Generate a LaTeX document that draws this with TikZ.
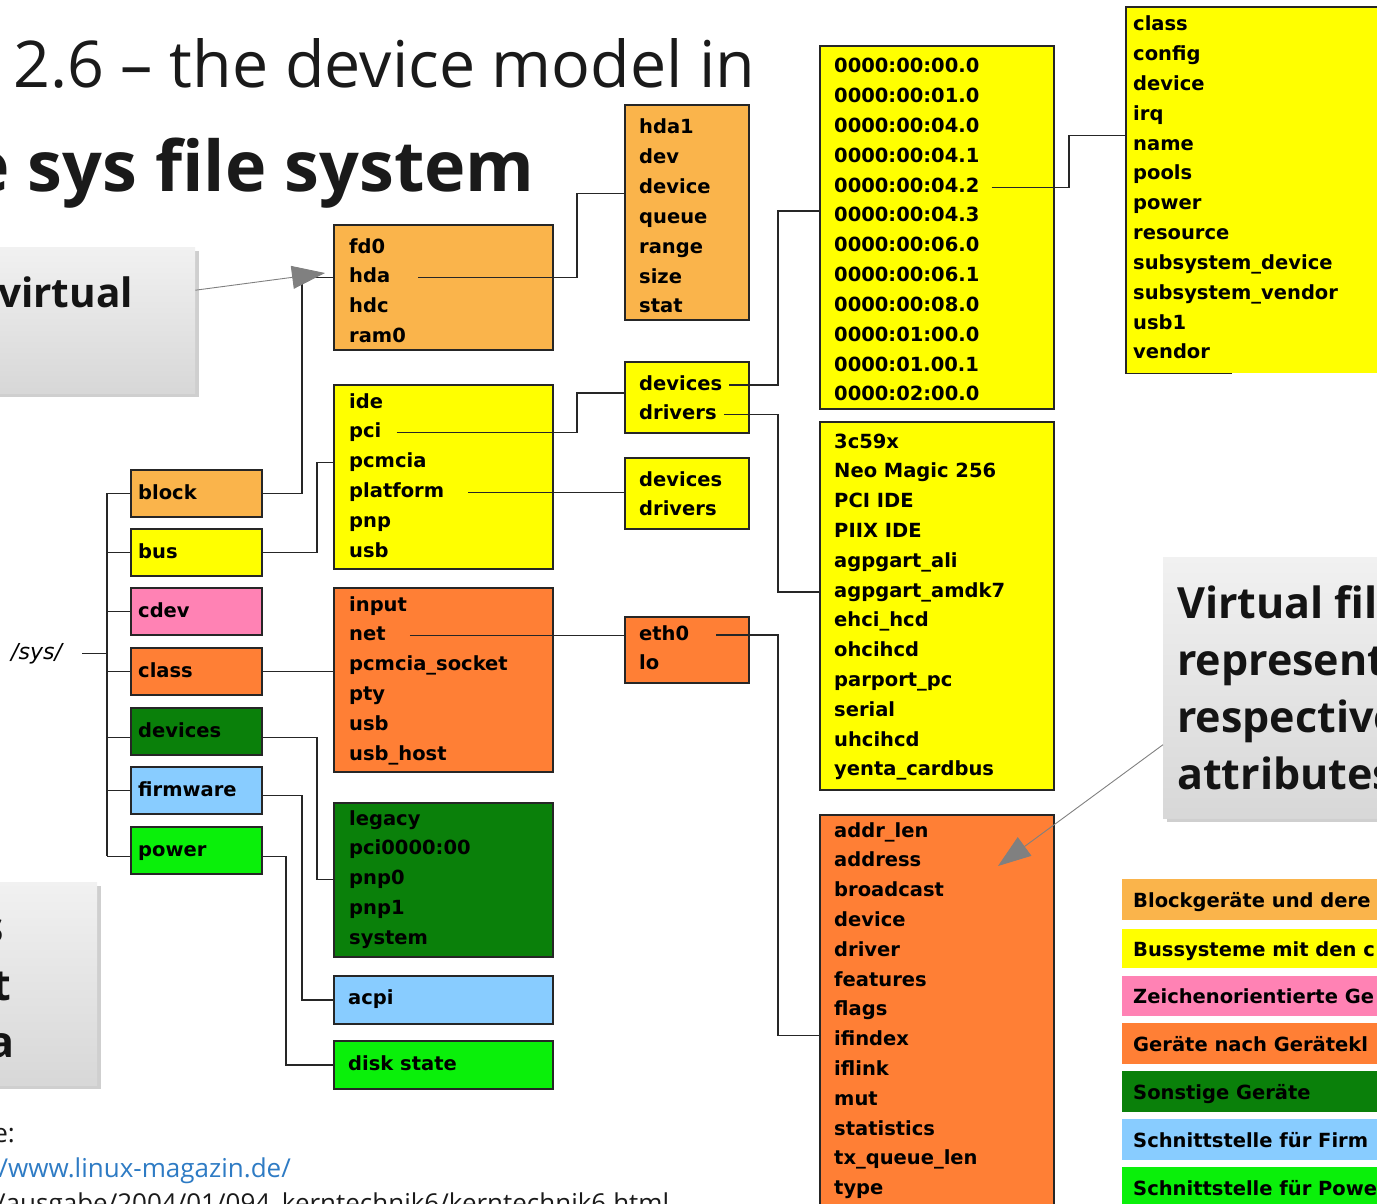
\documentclass[tikz,border=0pt]{standalone}
\usepackage{fontspec}
\setmainfont{Open Sans}
\newfontfamily\diafont{DejaVu Sans}
\usetikzlibrary{arrows.meta,calc,shadows}

% colour code of the sysfs directories
\definecolor{cblock}{HTML}{FAB44B}
\definecolor{cbus}{HTML}{FFFF00}
\definecolor{ccdev}{HTML}{FF82B4}
\definecolor{cclass}{HTML}{FF7F35}
\definecolor{cdevices}{HTML}{0A800A}
\definecolor{cfirmware}{HTML}{88CCFF}
\definecolor{cpower}{HTML}{0AF00A}
\definecolor{frame}{HTML}{262626}
\definecolor{linkblue}{HTML}{2E7BC4}
\definecolor{titleink}{HTML}{1A1A1A}

\begin{document}
\begin{tikzpicture}[x=1pt,y=-1pt,
  dirbox/.style={draw=frame,line width=1.7pt,fill=#1,inner sep=0pt,anchor=north west},
  legbox/.style={fill=#1,inner sep=0pt,anchor=north west,minimum width=280pt},
  item/.style={font=\diafont\bfseries\fontsize{19.5}{22}\selectfont,anchor=base west,
               inner sep=0pt,text height=14pt,text depth=4pt},
  wire/.style={draw=frame,line width=1.3pt},
  elbow/.style={to path={let \p1=(\tikztostart),\p2=(\tikztotarget) in
               -- (#1pt,\y1) -- (#1pt,\y2) -- (\tikztotarget)}},
  callout/.style={anchor=north west,inner sep=0pt,top color=gray!11,bottom color=gray!31,
               drop shadow={shadow xshift=4pt,shadow yshift=-4pt,fill=gray!38,opacity=1}},
  calltext/.style={font=\bfseries\fontsize{43}{50}\selectfont,inner sep=0pt,text=black!92},
  src/.style={font=\fontsize{26}{30}\selectfont,inner sep=0pt,text=titleink},
  pointer/.style={draw=gray,line width=0.9pt,-{Triangle[length=33pt,width=23pt,fill=gray]}},
]
\useasboundingbox (0,0) rectangle (1377,1204);
\clip (0,0) rectangle (1377,1204);

% ---------- title ----------
\node[anchor=base west,inner sep=0pt,font=\fontsize{64.5}{72}\selectfont,text=titleink]
  (title1) at (13,88) {2.6 – the device model in};
\node[anchor=base west,inner sep=0pt,font=\bfseries\fontsize{70}{80}\selectfont,text=titleink]
  (title2) at (-32,192) {e sys file system};

% ---------- callouts ----------
\node[callout,minimum width=205pt,minimum height=146pt] (cal1) at (-10,247) {};
\node[calltext,anchor=base west,font=\bfseries\fontsize{40.5}{48}\selectfont] (cal1-t) at (-2,307) {virtual};

\node[callout,minimum width=107pt,minimum height=203pt] (cal3) at (-10,882) {};
\node[calltext,anchor=base east] (cal3-t1) at (4,942) {s};
\node[calltext,anchor=base east] (cal3-t2) at (11,1000) {t};
\node[calltext,anchor=base east] (cal3-t3) at (15,1057) {a};

\node[callout,minimum width=240pt,minimum height=261pt] (cal2) at (1163,557) {};
\node[calltext,anchor=base west] (cal2-t1) at (1177,618) {Virtual fil};
\node[calltext,anchor=base west] (cal2-t2) at (1177,675) {represent};
\node[calltext,anchor=base west] (cal2-t3) at (1177,732) {respective};
\node[calltext,anchor=base west] (cal2-t4) at (1177,789) {attributes};

% ---------- /sys/ and its top-level directories ----------
\node[font=\diafont\itshape\fontsize{22}{24}\selectfont,anchor=base west,inner sep=0pt]
  (sys) at (11,659) {/sys/};

\foreach \nm/\col/\lab/\top in {blockbox/cblock/block/469,busbox/cbus/bus/528,
    cdevbox/ccdev/cdev/587,classbox/cclass/class/647,devbox/cdevices/devices/707,
    fwbox/cfirmware/firmware/766,pwbox/cpower/power/826}{
  \node[dirbox=\col,minimum width=131pt,minimum height=47pt] (\nm) at (130,\top) {};
  \node[item] (\nm-t) at (138,\top+30) {\lab};
}

% ---------- second level ----------
\node[dirbox=cblock,minimum width=219pt,minimum height=125pt] (bdev) at (333,224) {};
\foreach \w [count=\i from 0] in {fd0,hda,hdc,ram0}
  \node[item] (bdev-\i) at (349,253+29.8*\i) {\w};

\node[dirbox=cbus,minimum width=219pt,minimum height=184pt] (bbus) at (333,384) {};
\foreach \w [count=\i from 0] in {ide,pci,pcmcia,platform,pnp,usb}
  \node[item] (bbus-\i) at (349,408+29.8*\i) {\w};

\node[dirbox=cclass,minimum width=219pt,minimum height=184pt] (bcls) at (333,587) {};
\foreach \w [count=\i from 0] in {input,net,pcmcia\_socket,pty,usb,usb\_host}
  \node[item] (bcls-\i) at (349,611+29.8*\i) {\w};

\node[dirbox=cdevices,minimum width=219pt,minimum height=154pt] (bleg) at (333,802) {};
\foreach \w [count=\i from 0] in {legacy,pci0000:00,pnp0,pnp1,system}
  \node[item] (bleg-\i) at (349,825+29.8*\i) {\w};

\node[dirbox=cfirmware,minimum width=219pt,minimum height=48pt] (acpibox) at (333,975) {};
\node[item] (acpibox-t) at (348,1004) {acpi};
\node[dirbox=cpower,minimum width=219pt,minimum height=48pt] (diskbox) at (333,1040) {};
\node[item] (diskbox-t) at (348,1070) {disk state};

% ---------- third level ----------
\node[dirbox=cblock,minimum width=124pt,minimum height=215pt] (bhda) at (624,104) {};
\foreach \w [count=\i from 0] in {hda1,dev,device,queue,range,size,stat}
  \node[item] (bhda-\i) at (639,134+29.8*\i) {\w};

\node[dirbox=cbus,minimum width=124pt,minimum height=71pt] (bdd1) at (624,361) {};
\foreach \w [count=\i from 0] in {devices,drivers}
  \node[item] (bdd1-\i) at (639,390+29.8*\i) {\w};

\node[dirbox=cbus,minimum width=124pt,minimum height=71pt] (bdd2) at (624,457) {};
\foreach \w [count=\i from 0] in {devices,drivers}
  \node[item] (bdd2-\i) at (639,486+29.8*\i) {\w};

\node[dirbox=cclass,minimum width=124pt,minimum height=66pt] (beth) at (624,616) {};
\foreach \w [count=\i from 0] in {eth0,lo}
  \node[item] (beth-\i) at (639,640+29.8*\i) {\w};

% ---------- fourth level ----------
\node[dirbox=cbus,minimum width=234pt,minimum height=363pt] (bpci) at (819,45) {};
\foreach \w [count=\i from 0] in {0000:00:00.0,0000:00:01.0,0000:00:04.0,0000:00:04.1,
    0000:00:04.2,0000:00:04.3,0000:00:06.0,0000:00:06.1,0000:00:08.0,0000:01:00.0,
    0000:01.00.1,0000:02:00.0}
  \node[item] (bpci-\i) at (834,73+29.8*\i) {\w};

\node[dirbox=cbus,minimum width=234pt,minimum height=368pt] (bdrv) at (819,421) {};
\foreach \w [count=\i from 0] in {3c59x,Neo Magic 256,PCI IDE,PIIX IDE,agpgart\_ali,
    agpgart\_amdk7,ehci\_hcd,ohcihcd,parport\_pc,serial,uhcihcd,yenta\_cardbus}
  \node[item] (bdrv-\i) at (834,448+29.8*\i) {\w};

\node[dirbox=cclass,minimum width=234pt,minimum height=420pt] (bnet) at (819,814) {};
\foreach \w [count=\i from 0] in {addr\_len,address,broadcast,device,driver,features,
    flags,ifindex,iflink,mut,statistics,tx\_queue\_len,type}
  \node[item] (bnet-\i) at (834,837+29.8*\i) {\w};

% ---------- attributes of one PCI device ----------
\node[fill=cbus,inner sep=0pt,anchor=north west,minimum width=280pt,minimum height=366pt]
  (battr) at (1126,7) {};
\draw[draw=frame,line width=1.7pt] ($(battr.south west)+(106,0)$) -- (battr.south west)
  -- (battr.north west) -- (battr.north east);
\foreach \w [count=\i from 0] in {class,config,device,irq,name,pools,power,resource,
    subsystem\_device,subsystem\_vendor,usb1,vendor}
  \node[item] (battr-\i) at (1133,31+29.8*\i) {\w};

% ---------- legend ----------
\foreach \col/\top/\h/\base/\lab [count=\i] in {
    cblock/879/41/907/Blockgeräte und dere,
    cbus/929/39/956/Bussysteme mit den c,
    ccdev/976/40/1003/Zeichenorientierte Ge,
    cclass/1023/41/1051/Geräte nach Gerätekl,
    cdevices/1071/41/1099/Sonstige Geräte,
    cfirmware/1119/41/1147/Schnittstelle für Firm,
    cpower/1167/45/1195/Schnittstelle für Powe}{
  \node[legbox=\col,minimum height=\h pt] (leg-\i) at (1122,\top) {};
  \node[item] (leg-\i-t) at (1133,\base) {\lab};
}

% ---------- source ----------
\node[src,anchor=base east] (src1) at (15,1142) {e:};
\node[src,anchor=base east,text=linkblue] (src2) at (291,1177) {/www.linux-magazin.de/};
\node[src,anchor=base west] (src3) at (-4,1212) {/ausgabe/2004/01/094\_kerntechnik6/kerntechnik6.html};

% ---------- tree connectors ----------
\coordinate (trunk) at (107,653);
\draw[wire] ([xshift=20pt]sys.east) -- (sys.east -| trunk);
\draw[wire] (blockbox.west -| trunk) -- ($(pwbox.west -| trunk)+(0,6)$);
\foreach \nm in {blockbox,busbox,cdevbox,classbox,fwbox}
  \draw[wire] (\nm.west) -- (\nm.west -| trunk);
\foreach \nm in {devbox,pwbox}
  \draw[wire] ($(\nm.west)+(0,6)$) -- ($(\nm.west -| trunk)+(0,6)$);

\draw[wire] (blockbox.east) to[elbow=302] (bdev.west |- bdev-1);
\draw[wire] (busbox.east) to[elbow=317] (bbus.west |- bbus-2);
\draw[wire] (classbox.east) -- (classbox.east -| bcls.west);
\draw[wire] ($(devbox.east)+(0,6)$) to[elbow=317] (bleg.west |- bleg-2);
\draw[wire] ($(fwbox.east)+(0,5)$) to[elbow=302] (acpibox.west);
\draw[wire] ($(pwbox.east)+(0,6)$) to[elbow=286] (diskbox.west);

\draw[wire] ([xshift=28pt]bdev-1.east) to[elbow=577] ($(bhda.west |- bhda-2)+(0,5)$);
\draw[wire] ([xshift=15pt]bbus-1.east) to[elbow=577] ($(bdd1.west |- bdd1-0)+(0,8)$);
\draw[wire] ([xshift=24pt]bbus-3.east) -- (bbus-3.east -| bdd2.west);
\draw[wire] ([xshift=24pt]bcls-1.east) -- (bcls-1.east -| beth.west);

\draw[wire] ([xshift=7pt]bdd1-0.east) to[elbow=778] ($(bpci.west |- bpci-5)+(0,-6)$);
\draw[wire] ([xshift=7pt]bdd1-1.east) to[elbow=778] (bdrv.west |- bdrv-5);
\draw[wire] ([xshift=27pt]beth-0.east) to[elbow=778] ($(bnet.west |- bnet-7)+(0,-5)$);
\draw[wire] ([xshift=12pt]bpci-4.east) to[elbow=1069] ($(battr.west |- battr-4)+(0,-10)$);

% ---------- callout pointers ----------
\coordinate (tip1) at (325,273);
\draw[pointer] ($(cal1.east)+(0,-30)$) -- (tip1);
\coordinate (tip2) at (998,866);
\draw[pointer] ($(cal2.west)+(0,57)$) -- (tip2);
\end{tikzpicture}
\end{document}
